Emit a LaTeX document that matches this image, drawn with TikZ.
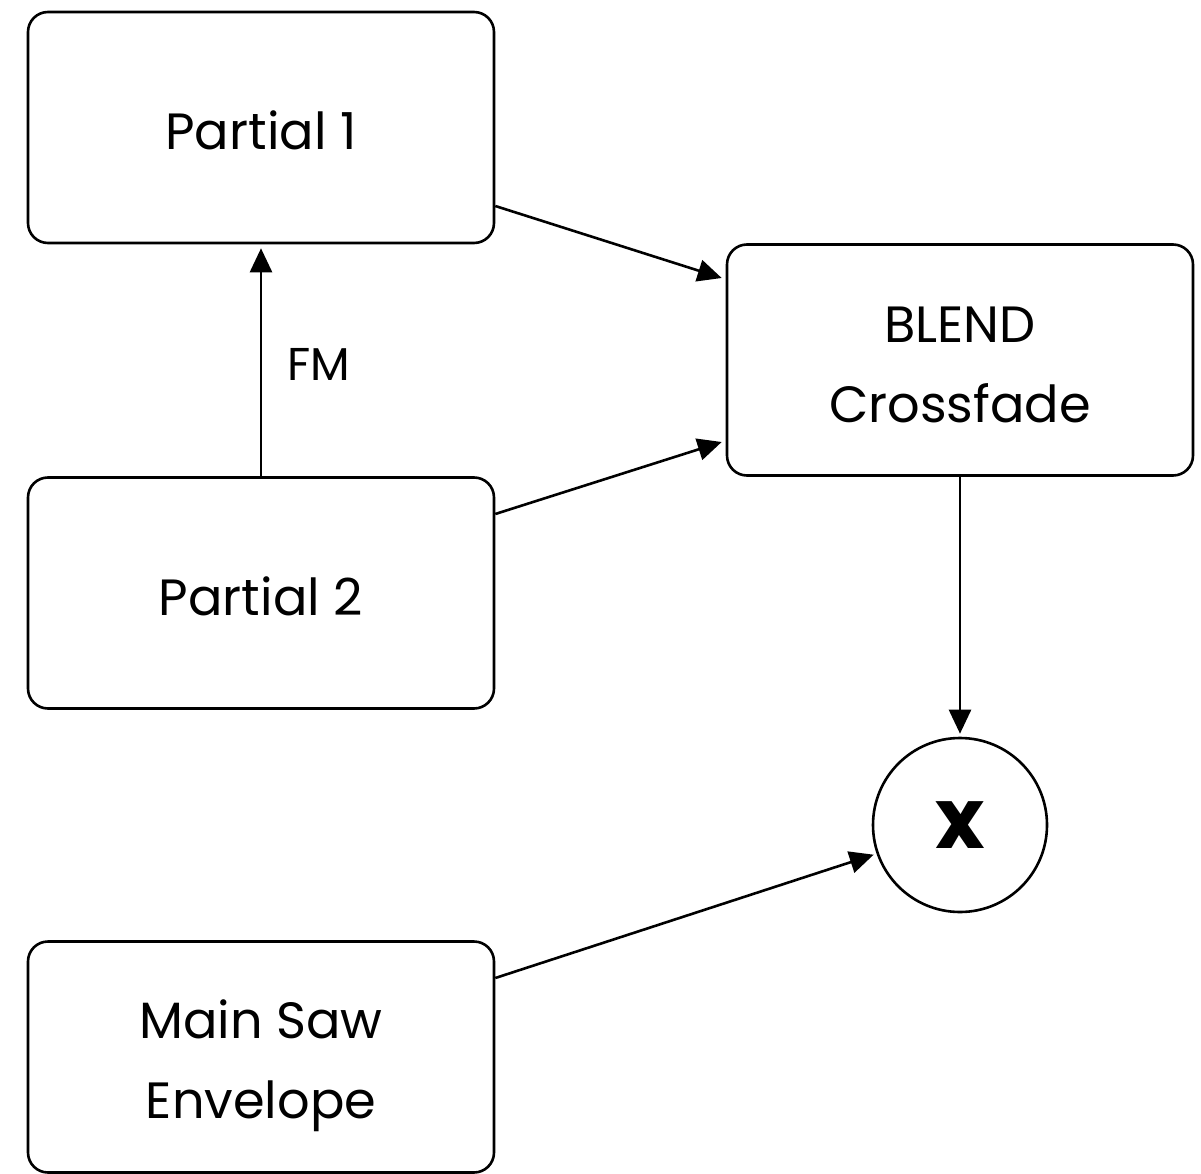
\documentclass[tikz,border=0pt]{standalone}
\usepackage{fontspec}
\setmainfont{Poppins}
\usetikzlibrary{arrows.meta}
\newcommand{\lowr}[2]{\raisebox{-#1}[\height][\depth]{#2}}
\tikzset{
  blk/.style={draw, line width=2.6pt, rounded corners=20pt, minimum width=466pt, minimum height=231pt, align=center, font=\fontsize{51}{80}\selectfont, inner sep=0pt},
  conn/.style={line width=2.6pt, -{Triangle[length=24pt, width=22pt]}},
}
\begin{document}
\begin{tikzpicture}[x=1pt, y=-1pt]
\useasboundingbox (0,0) rectangle (1201,1174);
\node[blk] (p1) at (261,127.5) {\lowr{3pt}{Partial 1}};
\node[blk] (p2) at (261,593) {\lowr{3pt}{Partial 2}};
\node[blk] (ms) at (261,1057) {\lowr{9pt}{Main Saw}\\\lowr{9pt}{Envelope}};
\node[blk] (bl) at (960,360) {\lowr{5pt}{BLEND}\\\lowr{5pt}{Crossfade}};
\node[draw, circle, line width=2.6pt, minimum size=174pt, inner sep=0pt, font=\fontsize{84}{84}\selectfont\bfseries] (mul) at (960,825) {x};
\draw[conn] ([yshift=-78.5pt]p1.east) -- ([yshift=82pt,xshift=-4pt]bl.west);
\draw[conn] ([yshift=79pt]p2.east) -- ([yshift=-82pt,xshift=-4pt]bl.west);
\draw[conn, shorten >=4pt] (p2.north) -- node[right=25pt, inner sep=0pt, font=\fontsize{46}{46}\selectfont, yshift=-4pt] (fm) {FM} (p1.south);
\draw[conn, shorten >=3pt] (bl.south) -- (mul.north);
\draw[conn, shorten >=3pt] ([yshift=79pt]ms.east) -- (mul.199);
\end{tikzpicture}
\end{document}
